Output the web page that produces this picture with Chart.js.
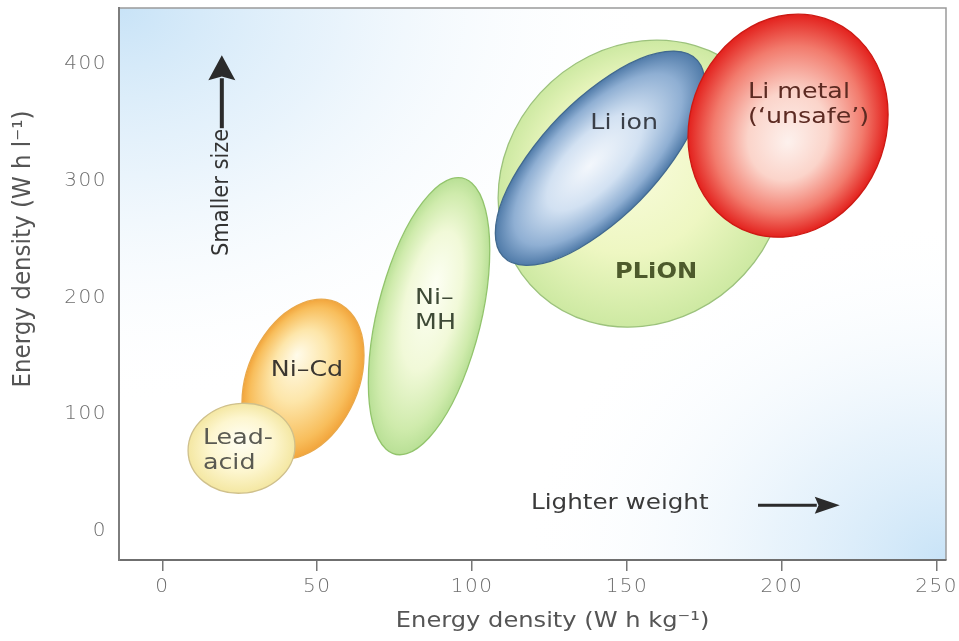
<!DOCTYPE html>
<html>
<head>
<meta charset="utf-8">
<script src="https://cdn.jsdelivr.net/npm/chart.js@4.4.1/dist/chart.umd.min.js"></script>
<style>
  html, body { margin: 0; padding: 0; background: #fff; }
  canvas { display: block; }
</style>
</head>
<body>
<canvas id="chart" width="959" height="641"></canvas>
<script>
// Battery chemistries, listed in drawing order (bottom first)
const batteries = ['Ni-Cd', 'Lead-acid', 'Ni-MH', 'PLiON', 'Li ion', 'Li metal'];
// gravimetric energy density range (W h kg-1)
const whkgMin = [25.7, 8.3, 66.5, 108.4, 107.5, 169.7];
const whkgMax = [65.1, 42.8, 105.7, 201.4, 175.1, 234.3];
// volumetric energy density range (W h l-1)
const whlMin = [61.4, 32.2, 65.2, 174.5, 227.5, 251.6];
const whlMax = [198.5, 109.3, 302.6, 420.4, 411.1, 442.7];
// how much the two ranges go together (tilt of each ellipse)
const tilt = [0.3, 0.05, 0.48, 0.1, 0.7, 0.1];
// text written inside each ellipse
const labelText = [['Ni–Cd'], ['Lead-', 'acid'], ['Ni–', 'MH'], ['PLiON'], ['Li ion'], ['Li metal', '(‘unsafe’)']];

const xTicks = [0, 50, 100, 150, 200, 250];
const yTicks = [0, 100, 200, 300, 400];
const xTitle = 'Energy density (W h kg⁻¹)';
const yTitle = 'Energy density (W h l⁻¹)';

const FONT = '"DejaVu Sans", "Liberation Sans", sans-serif';

// look of each ellipse: focal point of the shine, gradient stops, rim colour
const looks = [
  { hi: [-0.1, 0.35], stops: [[0, '#fffbea'], [0.45, '#fde6aa'], [0.85, '#f8be5c'], [1, '#f2a53c']], rim: '#e9a84a' },
  { hi: [0, 0.2], stops: [[0, '#fffef4'], [0.6, '#fdf6cf'], [1, '#f4e7a2']], rim: '#cfc08c' },
  { hi: [0.1, 0.2], stops: [[0, '#fdfff4'], [0.5, '#f1f9d8'], [0.85, '#cfebac'], [1, '#b9e096']], rim: '#92c46c' },
  { hi: [-0.15, 0.3], stops: [[0, '#fbfde2'], [0.6, '#eef7c2'], [1, '#cde9a2']], rim: '#9cc27c' },
  { hi: [-0.1, 0], stops: [[0, '#f3f7fc'], [0.45, '#d2e1f2'], [0.8, '#8fafd3'], [1, '#4f7aa8']], rim: '#41698f' },
  { hi: [0, -0.15], stops: [[0, '#fdf1ed'], [0.4, '#fbd4ca'], [0.75, '#f27b6d'], [1, '#e3211d']], rim: '#cc1a14' }
];

// where the ellipse labels sit (data units) and how they look
const labelLook = [
  { x: 46.7, y: 137.6, align: 'center', font: '22px', color: '#3b3630' },
  { x: 13.1, y: 79.3, align: 'left', font: '22px', color: '#5a5a52' },
  { x: 81.6, y: 199.3, align: 'left', font: '22px', color: '#3e4a36' },
  { x: 159.4, y: 221.5, align: 'center', font: 'bold 21px', color: '#4d5a2c' },
  { x: 149.1, y: 349.2, align: 'center', font: '22px', color: '#3a3f48' },
  { x: 189.1, y: 375.8, align: 'left', font: '22px', color: '#5c2a22' }
];

function stretchText(ctx, str, x, y, opt) {
  ctx.save();
  ctx.letterSpacing = '0px';
  ctx.translate(x, y);
  if (opt.rot) ctx.rotate(opt.rot);
  ctx.scale(opt.sx || 1, opt.sy || 1);
  ctx.font = opt.font + ' ' + FONT;
  ctx.fillStyle = opt.color;
  ctx.textAlign = opt.align || 'center';
  ctx.textBaseline = 'middle';
  ctx.fillText(str, 0, 0);
  ctx.restore();
}

function arrow(ctx, x0, y0, x1, y1, headLen, headHalf, shaft) {
  const ang = Math.atan2(y1 - y0, x1 - x0);
  const len = Math.hypot(x1 - x0, y1 - y0);
  ctx.save();
  ctx.translate(x0, y0);
  ctx.rotate(ang);
  ctx.fillStyle = '#2b2b2b';
  ctx.fillRect(0, -shaft / 2, len - headLen + 2, shaft);
  ctx.beginPath();
  ctx.moveTo(len, 0);
  ctx.lineTo(len - headLen, -headHalf);
  ctx.lineTo(len - headLen * 0.85, 0);
  ctx.lineTo(len - headLen, headHalf);
  ctx.closePath();
  ctx.fill();
  ctx.restore();
}

const backdrop = {
  id: 'backdrop',
  beforeDraw(chart) {
    const { ctx, chartArea: a } = chart;
    ctx.save();
    ctx.fillStyle = '#fff';
    ctx.fillRect(0, 0, chart.width, chart.height);
    ctx.beginPath();
    ctx.rect(a.left, a.top, a.right - a.left, a.bottom - a.top);
    ctx.clip();
    // bluish shading in the top-left and bottom-right corners
    [[a.left, a.top, 400, 1.35], [a.right, a.bottom, 340, 1.25]].forEach(([cx, cy, r, s]) => {
      ctx.save();
      ctx.translate(cx, cy);
      ctx.scale(s, 1);
      const g = ctx.createRadialGradient(0, 0, 0, 0, 0, r);
      g.addColorStop(0, 'rgba(200,227,247,1)');
      g.addColorStop(0.4, 'rgba(220,237,250,0.65)');
      g.addColorStop(1, 'rgba(255,255,255,0)');
      ctx.fillStyle = g;
      ctx.fillRect(-r, -r, 2 * r, 2 * r);
      ctx.restore();
    });
    ctx.restore();
    // thin frame on the top and right
    ctx.save();
    ctx.strokeStyle = '#9a9a9a';
    ctx.lineWidth = 1.5;
    ctx.beginPath();
    ctx.moveTo(a.left, a.top);
    ctx.lineTo(a.right, a.top);
    ctx.lineTo(a.right, a.bottom);
    ctx.stroke();
    ctx.restore();
    // ticks are set a little wide, like the original lettering
    ctx.letterSpacing = '1.5px';
  }
};

const ellipses = {
  id: 'ellipses',
  beforeDatasetsDraw(chart) {
    const { ctx, chartArea: a, scales: { x, y } } = chart;
    ctx.save();
    ctx.letterSpacing = '0px';
    ctx.beginPath();
    ctx.rect(a.left, a.top, a.right - a.left, a.bottom - a.top);
    ctx.clip();
    batteries.forEach((name, i) => {
      const cx = (whkgMin[i] + whkgMax[i]) / 2, cy = (whlMin[i] + whlMax[i]) / 2;
      const hx = (whkgMax[i] - whkgMin[i]) / 2, hy = (whlMax[i] - whlMin[i]) / 2;
      const r = tilt[i];
      const px = x.getPixelForValue(cx), py = y.getPixelForValue(cy);
      const ux = x.getPixelForValue(cx + hx) - px;
      const uy = y.getPixelForValue(cy + r * hy) - py;
      const vy = y.getPixelForValue(cy + Math.sqrt(1 - r * r) * hy) - py;
      const st = looks[i];
      ctx.save();
      ctx.transform(ux, uy, 0, vy, px, py);
      ctx.beginPath();
      ctx.arc(0, 0, 1, 0, Math.PI * 2);
      const g = ctx.createRadialGradient(st.hi[0], st.hi[1], 0, 0, 0, 1);
      st.stops.forEach(([o, c]) => g.addColorStop(o, c));
      ctx.fillStyle = g;
      ctx.fill();
      ctx.restore();
      ctx.lineWidth = 1.3;
      ctx.strokeStyle = st.rim;
      ctx.stroke();
    });
    // labels inside the ellipses
    batteries.forEach((name, i) => {
      const lk = labelLook[i];
      const lx = x.getPixelForValue(lk.x), ly = y.getPixelForValue(lk.y);
      labelText[i].forEach((line, j) => {
        stretchText(ctx, line, lx, ly + j * 25, { font: lk.font, color: lk.color, align: lk.align, sx: 1.15 });
      });
    });
    // direction hints
    const ax = x.getPixelForValue(19.2);
    arrow(ctx, ax, y.getPixelForValue(345), ax, y.getPixelForValue(407.5), 25, 13.5, 4);
    stretchText(ctx, 'Smaller size', ax, y.getPixelForValue(290), { font: '21px', color: '#333', rot: -Math.PI / 2, sy: 1.12 });
    stretchText(ctx, 'Lighter weight', x.getPixelForValue(119), y.getPixelForValue(23.6), { font: '22px', color: '#3a3a3a', align: 'left', sx: 1.12 });
    arrow(ctx, x.getPixelForValue(192.3), y.getPixelForValue(21.9), x.getPixelForValue(218.7), y.getPixelForValue(21.9), 25, 8.5, 3);
    ctx.restore();
  },
  afterDraw(chart) {
    const { ctx, scales: { x } } = chart;
    stretchText(ctx, xTitle, x.getPixelForValue(126), 622, { font: '21px', color: '#555', sx: 1.15 });
    stretchText(ctx, yTitle, 23, 249, { font: '23px', color: '#555', rot: -Math.PI / 2, sy: 1.1 });
  }
};

new Chart(document.getElementById('chart'), {
  type: 'scatter',
  data: {
    datasets: [{
      label: 'centres',
      data: batteries.map((b, i) => ({ x: (whkgMin[i] + whkgMax[i]) / 2, y: (whlMin[i] + whlMax[i]) / 2 })),
      pointRadius: 0,
      pointHoverRadius: 0
    }]
  },
  options: {
    responsive: false,
    animation: false,
    devicePixelRatio: 1,
    layout: { padding: { top: 8, right: 13, left: 0, bottom: 0 } },
    plugins: { legend: { display: false }, tooltip: { enabled: false } },
    scales: {
      x: {
        type: 'linear',
        min: -14,
        max: 253,
        afterFit: s => { s.height = 81; s.paddingLeft = 0; s.paddingRight = 0; },
        afterBuildTicks: s => { s.ticks = xTicks.map(v => ({ value: v })); },
        grid: { drawOnChartArea: false, drawTicks: true, tickLength: 11, color: '#777', lineWidth: 1.5 },
        border: { display: true, color: '#6f6f6f', width: 2 },
        ticks: { padding: 4, color: '#6e6e6e', font: { family: FONT, size: 20, weight: 300 } },
        title: { display: false }
      },
      y: {
        type: 'linear',
        min: -25,
        max: 448,
        afterFit: s => { s.width = 119; s.paddingTop = 0; s.paddingBottom = 0; },
        afterBuildTicks: s => { s.ticks = yTicks.map(v => ({ value: v })); },
        grid: { drawOnChartArea: false, drawTicks: false },
        border: { display: true, color: '#7d7d7d', width: 2 },
        ticks: { padding: 12, color: '#6e6e6e', font: { family: FONT, size: 20, weight: 300 } },
        title: { display: false }
      }
    }
  },
  plugins: [backdrop, ellipses]
});
</script>
</body>
</html>
